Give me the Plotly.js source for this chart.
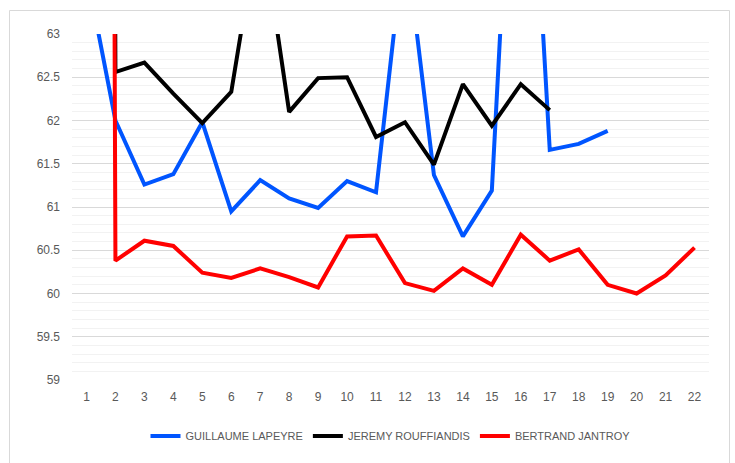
<!DOCTYPE html>
<html>
<head>
<meta charset="utf-8">
<script src="https://cdn.plot.ly/plotly-3.0.1.min.js"></script>
<style>html,body{margin:0;padding:0;background:#fff;}#chart{width:735px;height:463px;}</style>
</head>
<body>
<div id="chart"></div>
<script>
const categories = ["1","2","3","4","5","6","7","8","9","10","11","12","13","14","15","16","17","18","19","20","21","22"];
const seriesNames = ["GUILLAUME LAPEYRE", "JEREMY ROUFFIANDIS", "BERTRAND JANTROY"];
const lapeyre = [63.72, 62.0, 61.26, 61.38, 61.98, 60.95, 61.31, 61.10, 60.99, 61.30, 61.17, 64.15, 61.37, 60.66, 61.19, 67.5, 61.66, 61.73, 61.88, null, null, null];
const rouffiandis = [150, 62.56, 62.67, 62.31, 61.97, 62.33, 64.37, 62.10, 62.49, 62.50, 61.81, 61.98, 61.49, 62.42, 61.94, 62.42, 62.12, null, null, null, null, null];
const jantroy = [150, 60.38, 60.61, 60.55, 60.24, 60.18, 60.29, 60.19, 60.07, 60.66, 60.67, 60.12, 60.03, 60.29, 60.10, 60.68, 60.38, 60.51, 60.10, 60.00, 60.21, 60.53];
const colors = ["#0055ff", "#000000", "#ff0000"];
const yTicks = [59, 59.5, 60, 60.5, 61, 61.5, 62, 62.5, 63];
const yTickText = ["59", "59.5", "60", "60.5", "61", "61.5", "62", "62.5", "63"];

const font = "'Liberation Sans Narrow', 'Liberation Sans', Arial, sans-serif";
const allSeries = [lapeyre, rouffiandis, jantroy];
const traces = allSeries.map((vals, i) => ({
  type: "scatter",
  mode: "lines",
  x: categories,
  y: vals,
  name: seriesNames[i],
  line: {color: colors[i], width: 4, shape: "linear"},
  connectgaps: false,
  hoverinfo: "skip"
}));

const layout = {
  width: 735,
  height: 463,
  margin: {l: 72, r: 26, t: 34, b: 83},
  paper_bgcolor: "#ffffff",
  plot_bgcolor: "#ffffff",
  font: {family: font, size: 12, color: "#595959"},
  showlegend: true,
  legend: {
    orientation: "h",
    x: 0.5, xanchor: "center",
    y: -0.162, yanchor: "middle",
    font: {family: font, size: 11, color: "#595959"},
    itemwidth: 30,
    tracegroupgap: 0
  },
  xaxis: {
    type: "category",
    range: [-0.5, 21.5],
    showgrid: false,
    zeroline: false,
    showline: false,
    ticks: "",
    ticklabelstandoff: 8,
    tickfont: {family: font, size: 12, color: "#595959"},
    fixedrange: true
  },
  yaxis: {
    range: [59, 63],
    tickvals: yTicks,
    ticktext: yTickText,
    showgrid: true,
    gridcolor: "#d9d9d9",
    gridwidth: 1,
    zeroline: false,
    showline: false,
    ticks: "",
    ticklabelstandoff: 11,
    tickfont: {family: font, size: 12, color: "#595959"},
    minor: {dtick: 0.1, showgrid: true, gridcolor: "#f2f2f2", gridwidth: 1},
    fixedrange: true
  },
  shapes: [{
    type: "rect", xref: "paper", yref: "paper",
    x0: (9.5 - 72) / 637, x1: (729.5 - 72) / 637,
    y0: (380 - 480) / 346, y1: (380 - 10.5) / 346,
    line: {color: "#d9d9d9", width: 1},
    fillcolor: "rgba(0,0,0,0)",
    layer: "below"
  }]
};

Plotly.newPlot("chart", traces, layout, {displayModeBar: false, staticPlot: true});
</script>
</body>
</html>
